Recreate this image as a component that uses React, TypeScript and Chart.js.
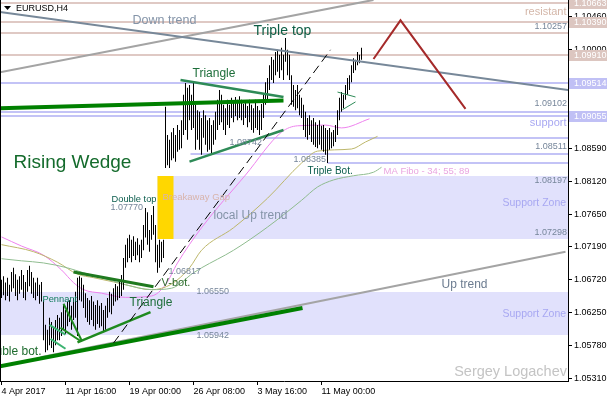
import React, { useEffect, useRef } from 'react';
import { Chart, registerables } from 'chart.js';
Chart.register(...registerables);

const FONT = '"Liberation Sans", Arial, sans-serif';

// ---- OHLC bar data (H4 EURUSD), highs & lows per bar ----
const barHighs = [
  1.0672, 1.0677, 1.0668, 1.0675, 1.0665, 1.0683, 1.0689, 1.0680, 1.0672, 1.0677,
  1.0686, 1.0679, 1.0669, 1.0686, 1.0692, 1.0683, 1.0675, 1.0668, 1.0675, 1.0665,
  1.0669, 1.0643, 1.0608, 1.0601, 1.0618, 1.0612, 1.0604, 1.0615, 1.0622, 1.0618,
  1.0626, 1.0636, 1.0629, 1.0641, 1.0643, 1.0635, 1.0646, 1.0655, 1.0675, 1.0677,
  1.0675, 1.0665, 1.0653, 1.0646, 1.0643, 1.0649, 1.0641, 1.0636, 1.0643, 1.0635,
  1.0639, 1.0629, 1.0635, 1.0646, 1.0655, 1.0652, 1.0660, 1.0666, 1.0663, 1.0672,
  1.0679, 1.0703, 1.0722, 1.0731, 1.0736, 1.0729, 1.0734, 1.0726, 1.0731, 1.0722,
  1.0729, 1.0750, 1.0774, 1.0768, 1.0743, 1.0764, 1.0777, 1.0750, 1.0722, 1.0729,
  1.0726, 1.0729, 1.0918, 1.0878, 1.0871, 1.0882, 1.0888, 1.0878, 1.0892, 1.0885,
  1.0899, 1.0935, 1.0952, 1.0945, 1.0949, 1.0935, 1.0952, 1.0921, 1.0913, 1.0911,
  1.0902, 1.0913, 1.0906, 1.0899, 1.0902, 1.0892, 1.0899, 1.0911, 1.0928, 1.0942,
  1.0935, 1.0921, 1.0916, 1.0928, 1.0921, 1.0931, 1.0925, 1.0932, 1.0928, 1.0933,
  1.0928, 1.0922, 1.0925, 1.0919, 1.0928, 1.0921, 1.0916, 1.0928, 1.0919, 1.0913,
  1.0922, 1.0935, 1.0953, 1.0959, 1.0977, 1.0989, 1.0985, 1.0996, 1.0999, 1.0992,
  1.1002, 1.0992, 1.1016, 1.0999, 1.0992, 1.0963, 1.0949, 1.0942, 1.0949, 1.0935,
  1.0931, 1.0921, 1.0911, 1.0902, 1.0906, 1.0899, 1.0902, 1.0896, 1.0892, 1.0899,
  1.0891, 1.0892, 1.0888, 1.0885, 1.0888, 1.0882, 1.0885, 1.0892, 1.0913, 1.0931,
  1.0939, 1.0935, 1.0949, 1.0959, 1.0963, 1.0977, 1.0987, 1.0985, 1.0996, 1.0992,
  1.1002,
];
const barLows = [
  1.0646, 1.0650, 1.0643, 1.0649, 1.0641, 1.0655, 1.0660, 1.0649, 1.0643, 1.0652,
  1.0658, 1.0646, 1.0643, 1.0655, 1.0663, 1.0652, 1.0646, 1.0643, 1.0649, 1.0638,
  1.0641, 1.0586, 1.0569, 1.0572, 1.0579, 1.0575, 1.0569, 1.0579, 1.0586, 1.0586,
  1.0592, 1.0601, 1.0595, 1.0606, 1.0612, 1.0601, 1.0615, 1.0618, 1.0592, 1.0643,
  1.0641, 1.0632, 1.0618, 1.0612, 1.0608, 1.0615, 1.0606, 1.0601, 1.0609, 1.0604,
  1.0606, 1.0598, 1.0601, 1.0618, 1.0626, 1.0623, 1.0635, 1.0641, 1.0643, 1.0646,
  1.0649, 1.0658, 1.0689, 1.0697, 1.0703, 1.0697, 1.0706, 1.0700, 1.0707, 1.0697,
  1.0703, 1.0714, 1.0732, 1.0722, 1.0712, 1.0729, 1.0736, 1.0697, 1.0682, 1.0689,
  1.0697, 1.0703, 1.0831, 1.0835, 1.0831, 1.0842, 1.0845, 1.0840, 1.0854, 1.0857,
  1.0859, 1.0878, 1.0885, 1.0871, 1.0899, 1.0885, 1.0888, 1.0857, 1.0871, 1.0857,
  1.0850, 1.0874, 1.0864, 1.0854, 1.0857, 1.0850, 1.0864, 1.0871, 1.0885, 1.0892,
  1.0896, 1.0885, 1.0878, 1.0892, 1.0888, 1.0902, 1.0896, 1.0905, 1.0899, 1.0902,
  1.0899, 1.0892, 1.0902, 1.0889, 1.0896, 1.0885, 1.0881, 1.0888, 1.0885, 1.0878,
  1.0885, 1.0902, 1.0921, 1.0928, 1.0942, 1.0956, 1.0952, 1.0963, 1.0968, 1.0959,
  1.0970, 1.0956, 1.0982, 1.0963, 1.0956, 1.0921, 1.0918, 1.0913, 1.0916, 1.0906,
  1.0902, 1.0885, 1.0875, 1.0871, 1.0878, 1.0868, 1.0864, 1.0861, 1.0859, 1.0864,
  1.0857, 1.0854, 1.0850, 1.0838, 1.0857, 1.0859, 1.0862, 1.0868, 1.0878, 1.0899,
  1.0911, 1.0916, 1.0928, 1.0935, 1.0942, 1.0953, 1.0966, 1.0970, 1.0977, 1.0980,
  1.0985,
];

// ---- Moving averages (Fibo 34 / 55 / 89), sampled at bar indices ----
const ma34Idx = [0, 10, 21, 30, 36, 41, 50, 62, 75, 82, 88, 100, 122, 140, 148, 162, 170, 184];
const ma34Val = [1.0733, 1.0720, 1.0707, 1.0686, 1.0668, 1.0658, 1.0653, 1.0647, 1.0649, 1.0665, 1.0696, 1.0746, 1.0821, 1.0882, 1.0891, 1.0892, 1.0888, 1.0901];
const ma55Idx = [0, 16, 28, 38, 46, 56, 62, 75, 85, 94, 100, 116, 133, 150, 158, 175, 182, 188];
const ma55Val = [1.0722, 1.0712, 1.0697, 1.0680, 1.0675, 1.0669, 1.0665, 1.0658, 1.0666, 1.0689, 1.0714, 1.0746, 1.0788, 1.0838, 1.0855, 1.0858, 1.0868, 1.0876];
const ma89Idx = [0, 10, 21, 33, 41, 50, 62, 75, 85, 96, 100, 116, 133, 150, 158, 166, 176, 186, 190];
const ma89Val = [1.0702, 1.0699, 1.0696, 1.0689, 1.0682, 1.0675, 1.0665, 1.0658, 1.0660, 1.0682, 1.0689, 1.0714, 1.0747, 1.0785, 1.0804, 1.0814, 1.0820, 1.0825, 1.0832];

// ---- Axis ticks ----
const xTickIdx = [0, 32, 64, 96, 128, 160];
const xTickLabels = ['4 Apr 2017', '11 Apr 16:00', '19 Apr 00:00', '26 Apr 08:00', '3 May 16:00', '11 May 00:00'];
const yTickVals = [1.0531, 1.0578, 1.0625, 1.0672, 1.0719, 1.0765, 1.0812, 1.0859, 1.0906, 1.0953, 1.1, 1.1046];
const yMin = 1.05281;
const yMax = 1.10699;
const xMin = -0.75;
const xMax = 283.25;

// ---- Levels ----
const resistanceLevels = [1.10663, 1.1039, 1.10235, 1.0991];
const supportLevels = [1.09514, 1.09102, 1.09055];
const partialLevelStart = [132, 94.5, 163];
const partialLevelPrice = [1.08742, 1.08511, 1.08385];
const axisResLabels = [1.10663, 1.1039, 1.0991];
const axisSupLabels = [1.09514, 1.09055];

// zones: [startIdx, endIdx, low, high]
const zoneUpper = [78, 283.25, 1.07298, 1.08197];
const zoneLower = [-0.75, 283.25, 1.05942, 1.0655];
const gapRect = [78, 86, 1.07298, 1.08197];

// trend lines: pairs of [barIndex, price]
const downTrend = [[-0.75, 1.1053], [283.25, 1.0942]];
const upTrendTop = [[-0.75, 1.0967], [186, 1.107]];
const upTrendBottom = [[19.5, 1.0562], [282, 1.0712]];
const wedgeLower = [[-0.75, 1.0549], [150.5, 1.0632]];
const wedgeUpper = [[-0.75, 1.0916], [141, 1.0927]];
const triTopUpper = [[89.5, 1.0956], [141, 1.0932]];
const triTopLower = [[94, 1.084], [141, 1.0885]];
const triLowUpper = [[36, 1.0683], [76, 1.0662]];
const triLowLower = [[38, 1.0583], [74.5, 1.0626]];
const pennantA = [[31, 1.0638], [40, 1.0586]];
const pennantB = [[29.5, 1.0604], [39.5, 1.0585]];
const flagA = [[24, 1.0608], [32, 1.0594]];
const flagB = [[24.5, 1.0588], [32, 1.0574]];
const smallFlagA = [[168, 1.0939], [177, 1.0932]];
const smallFlagB = [[170.5, 1.0914], [177, 1.0925]];
const localUp = [[56, 1.0582], [164.5, 1.0999]];
const projection = [[186, 1.0986], [199.5, 1.1041], [232, 1.0915]];

type Note = { t: string; i: number; p: number; a: CanvasTextAlign; s: number; c: string };
const notes: Note[] = [
  { t: 'Down trend', i: 65.5, p: 1.10407, a: 'left', s: 12.5, c: '#8494a8' },
  { t: 'Triple top', i: 126, p: 1.10258, a: 'left', s: 14, c: '#0d5e45' },
  { t: 'resistant', i: 282.5, p: 1.10533, a: 'right', s: 11, c: '#d4b6a8' },
  { t: '1.10257', i: 282.75, p: 1.10315, a: 'right', s: 9, c: '#76869a' },
  { t: 'Triangle', i: 95.5, p: 1.09647, a: 'left', s: 12, c: '#1d6e3a' },
  { t: '1.09102', i: 282.75, p: 1.0922, a: 'right', s: 9, c: '#76869a' },
  { t: 'support', i: 282.5, p: 1.0895, a: 'right', s: 11, c: '#a8a8f2' },
  { t: 'Rising Wedge', i: 6, p: 1.08381, a: 'left', s: 19, c: '#146b2c' },
  { t: '1.08742', i: 114, p: 1.08666, a: 'left', s: 9, c: '#76869a' },
  { t: '1.08511', i: 282.75, p: 1.08609, a: 'right', s: 9, c: '#76869a' },
  { t: '1.08385', i: 146, p: 1.08424, a: 'left', s: 9, c: '#76869a' },
  { t: 'Triple Bot.', i: 153, p: 1.08257, a: 'left', s: 10, c: '#0a5c4c' },
  { t: 'MA Fibo - 34; 55; 89', i: 191, p: 1.08267, a: 'left', s: 9.5, c: '#eaa6e0' },
  { t: '1.08197', i: 282.75, p: 1.08125, a: 'right', s: 9, c: '#76869a' },
  { t: 'Breakaway Gap', i: 80.5, p: 1.07898, a: 'left', s: 9.5, c: '#d8b4ac' },
  { t: 'Support Zone', i: 282.3, p: 1.07812, a: 'right', s: 10.5, c: '#a8a8f2' },
  { t: 'Double top', i: 55, p: 1.07869, a: 'left', s: 9.3, c: '#0a5c4c' },
  { t: '1.07770', i: 54.5, p: 1.07741, a: 'left', s: 9, c: '#76869a' },
  { t: 'local Up trend', i: 106, p: 1.07627, a: 'left', s: 12, c: '#8494a8' },
  { t: '1.07298', i: 282.75, p: 1.07386, a: 'right', s: 9, c: '#76869a' },
  { t: '1.06817', i: 83.5, p: 1.06831, a: 'left', s: 9, c: '#76869a' },
  { t: 'V-bot.', i: 80, p: 1.06679, a: 'left', s: 11, c: '#2a6a2a' },
  { t: 'Up trend', i: 220, p: 1.06656, a: 'left', s: 12, c: '#6c7c90' },
  { t: '1.06550', i: 97.5, p: 1.06547, a: 'left', s: 9, c: '#76869a' },
  { t: 'Pennant', i: 20.5, p: 1.06447, a: 'left', s: 9.3, c: '#0e7a5a' },
  { t: 'Triangle', i: 64, p: 1.0639, a: 'left', s: 12, c: '#1d6e3a' },
  { t: 'Support Zone', i: 282.3, p: 1.06234, a: 'right', s: 10.5, c: '#a8a8f2' },
  { t: '1.05942', i: 97.5, p: 1.05921, a: 'left', s: 9, c: '#76869a' },
  { t: 'Double bot.', i: 20, p: 1.05698, a: 'right', s: 12, c: '#1e6b2e' },
  { t: 'Sergey Logachev', i: 282.75, p: 1.05413, a: 'right', s: 14.5, c: '#c4c4c4' },
];

function strokePath(ctx: CanvasRenderingContext2D, x: any, y: any, pts: number[][], color: string, w: number, dash: number[] = []) {
  ctx.save();
  ctx.strokeStyle = color;
  ctx.lineWidth = w;
  ctx.setLineDash(dash);
  ctx.lineCap = 'butt';
  ctx.beginPath();
  pts.forEach((pt, k) => {
    const px = x.getPixelForValue(pt[0]);
    const py = y.getPixelForValue(pt[1]);
    if (k === 0) ctx.moveTo(px, py);
    else ctx.lineTo(px, py);
  });
  ctx.stroke();
  ctx.restore();
}

const overlay = {
  id: 'overlay',
  beforeDatasetsDraw(chart: any) {
    const { ctx, chartArea: a, scales } = chart;
    const x = scales.x, y = scales.y;
    ctx.save();
    ctx.beginPath();
    ctx.rect(a.left, a.top, a.right - a.left, a.bottom - a.top);
    ctx.clip();
    const zone = (z: number[], color: string) => {
      const x0 = x.getPixelForValue(z[0]);
      const x1 = x.getPixelForValue(z[1]);
      const yTop = Math.round(y.getPixelForValue(z[3]));
      const yBot = Math.round(y.getPixelForValue(z[2]));
      ctx.fillStyle = color;
      ctx.fillRect(x0, yTop, x1 - x0, yBot - yTop);
    };
    zone(zoneLower, '#e1e1fc');
    zone(zoneUpper, '#e1e1fc');
    const hline = (p: number, start: number, color: string) => {
      const py = Math.round(y.getPixelForValue(p));
      ctx.strokeStyle = color;
      ctx.lineWidth = 2;
      ctx.beginPath();
      ctx.moveTo(x.getPixelForValue(start), py);
      ctx.lineTo(a.right, py);
      ctx.stroke();
    };
    resistanceLevels.forEach((p) => hline(p, xMin, '#dfc9c4'));
    supportLevels.forEach((p) => hline(p, xMin, '#c3c3f6'));
    partialLevelPrice.forEach((p, k) => hline(p, partialLevelStart[k], '#c3c3f6'));
    zone(gapRect, '#ffd700');
    ctx.restore();
  },
  afterDatasetsDraw(chart: any) {
    const { ctx, chartArea: a, scales } = chart;
    const x = scales.x, y = scales.y;
    ctx.save();
    ctx.beginPath();
    ctx.rect(a.left, a.top, a.right - a.left, a.bottom - a.top);
    ctx.clip();
    strokePath(ctx, x, y, upTrendTop, '#a4a4a4', 2);
    strokePath(ctx, x, y, upTrendBottom, '#a4a4a4', 2);
    strokePath(ctx, x, y, downTrend, '#778899', 2);
    strokePath(ctx, x, y, wedgeLower, '#008000', 4);
    strokePath(ctx, x, y, wedgeUpper, '#008000', 4);
    strokePath(ctx, x, y, triTopUpper, '#2e8b57', 2.5);
    strokePath(ctx, x, y, triTopLower, '#2e8b57', 2.5);
    strokePath(ctx, x, y, triLowUpper, '#1f7a1f', 3);
    strokePath(ctx, x, y, triLowLower, '#1f8a1f', 2.5);
    strokePath(ctx, x, y, pennantA, '#1f8a1f', 2);
    strokePath(ctx, x, y, pennantB, '#1f8a1f', 2);
    strokePath(ctx, x, y, flagA, '#3cb371', 2);
    strokePath(ctx, x, y, flagB, '#3cb371', 2);
    strokePath(ctx, x, y, smallFlagA, '#2e8b57', 1);
    strokePath(ctx, x, y, smallFlagB, '#2e8b57', 1);
    strokePath(ctx, x, y, localUp, '#000000', 1, [9, 5]);
    strokePath(ctx, x, y, projection, '#a52a2a', 2);
    ctx.textBaseline = 'middle';
    notes.forEach((n) => {
      ctx.font = `${n.s}px ${FONT}`;
      ctx.fillStyle = n.c;
      ctx.textAlign = n.a;
      ctx.fillText(n.t, x.getPixelForValue(n.i), y.getPixelForValue(n.p));
    });
    ctx.restore();
  },
  afterDraw(chart: any) {
    const { ctx, chartArea: a, scales } = chart;
    const y = scales.y;
    ctx.save();
    ctx.font = `9px ${FONT}`;
    ctx.textBaseline = 'middle';
    ctx.textAlign = 'left';
    const box = (p: number, color: string) => {
      const py = Math.round(y.getPixelForValue(p));
      ctx.fillStyle = color;
      ctx.fillRect(a.right + 1, py - 5, 607 - a.right, 11);
      ctx.fillStyle = '#ffffff';
      ctx.fillText(p.toFixed(5), a.right + 6, py + 0.5);
    };
    axisResLabels.forEach((p) => box(p, '#dcc6c0'));
    axisSupLabels.forEach((p) => box(p, '#c0c0f5'));
    // left border
    ctx.strokeStyle = '#000';
    ctx.lineWidth = 1;
    ctx.beginPath();
    ctx.moveTo(a.left + 0.5, a.top);
    ctx.lineTo(a.left + 0.5, a.bottom);
    ctx.stroke();
    // title
    ctx.fillStyle = '#000';
    ctx.beginPath();
    ctx.moveTo(a.left + 4, a.top + 6);
    ctx.lineTo(a.left + 11, a.top + 6);
    ctx.lineTo(a.left + 7.5, a.top + 10);
    ctx.closePath();
    ctx.fill();
    ctx.font = `9px ${FONT}`;
    ctx.fillText('EURUSD,H4', a.left + 16, a.top + 8.5);
    ctx.restore();
  },
};

export default function App() {
  const ref = useRef<HTMLCanvasElement>(null);
  useEffect(() => {
    document.body.style.margin = '0';
    const bars = barHighs.map((h, i) => ({ x: i, y: [barLows[i], h] }));
    const toPts = (idx: number[], val: number[]) => idx.map((v, k) => ({ x: v, y: val[k] }));
    const chart = new Chart(ref.current as HTMLCanvasElement, {
      type: 'bar',
      data: {
        datasets: [
          {
            type: 'bar',
            data: bars as any,
            backgroundColor: '#000000',
            borderWidth: 0,
            barThickness: 1,
            inflateAmount: 0,
            order: 0,
          } as any,
          { type: 'line', data: toPts(ma89Idx, ma89Val) as any, borderColor: '#8fbc8f', borderWidth: 1, pointRadius: 0, cubicInterpolationMode: 'monotone', order: 1 } as any,
          { type: 'line', data: toPts(ma55Idx, ma55Val) as any, borderColor: '#bdb76b', borderWidth: 1, pointRadius: 0, cubicInterpolationMode: 'monotone', order: 1 } as any,
          { type: 'line', data: toPts(ma34Idx, ma34Val) as any, borderColor: '#ee82ee', borderWidth: 1, pointRadius: 0, cubicInterpolationMode: 'monotone', order: 1 } as any,
        ],
      },
      options: {
        responsive: false,
        animation: false,
        devicePixelRatio: 1,
        layout: { padding: 0 },
        plugins: { legend: { display: false }, tooltip: { enabled: false } },
        events: [],
        scales: {
          x: {
            type: 'linear',
            position: 'bottom',
            min: xMin,
            max: xMax,
            offset: false,
            grid: { drawOnChartArea: false, drawTicks: true, tickLength: 4, color: '#000', offset: false },
            border: { display: true, color: '#000', width: 1 },
            ticks: {
              autoSkip: false,
              maxRotation: 0,
              minRotation: 0,
              align: 'start',
              padding: 1,
              color: '#000',
              font: { family: FONT, size: 9 },
              callback: (_v: any, i: number) => xTickLabels[i],
            },
            afterBuildTicks: (s: any) => {
              s.ticks = xTickIdx.map((v) => ({ value: v }));
            },
            afterFit: (s: any) => {
              s.height = 19;
              s.paddingLeft = 0;
              s.paddingRight = 0;
            },
          } as any,
          y: {
            type: 'linear',
            position: 'right',
            min: yMin,
            max: yMax,
            grid: { drawOnChartArea: false, drawTicks: true, tickLength: 4, color: '#000' },
            border: { display: true, color: '#000', width: 1 },
            ticks: {
              autoSkip: false,
              padding: 2,
              color: '#000',
              font: { family: FONT, size: 9 },
              callback: (v: any) => Number(v).toFixed(5),
            },
            afterBuildTicks: (s: any) => {
              s.ticks = yTickVals.map((v) => ({ value: v }));
            },
            afterFit: (s: any) => {
              s.width = 39;
              s.paddingTop = 0;
              s.paddingBottom = 0;
            },
          } as any,
        },
      },
      plugins: [overlay],
    } as any);
    return () => chart.destroy();
  }, []);
  return (
    <div style={{ position: 'absolute', left: 0, top: 0, width: 607, height: 400, background: '#fff' }}>
      <canvas ref={ref} width={607} height={400} style={{ width: 607, height: 400, display: 'block' }} />
    </div>
  );
}
